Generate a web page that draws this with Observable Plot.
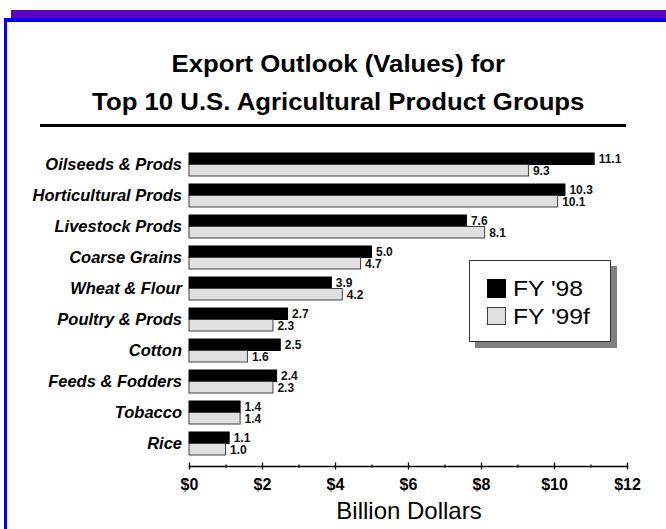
<!DOCTYPE html>
<html><head><meta charset="utf-8">
<script src="https://cdn.jsdelivr.net/npm/d3@7"></script>
<script src="https://cdn.jsdelivr.net/npm/@observablehq/plot@0.6"></script>
<style>
html,body{margin:0;padding:0;background:#fff;}
#page{position:relative;width:666px;height:529px;overflow:hidden;font-family:"Liberation Sans",Arial,sans-serif;color:#000;}
#chart{position:absolute;left:0;top:0;}
.purple{position:absolute;left:11px;top:10px;width:660px;height:8.5px;background:#5f00bf;}
.blueH{position:absolute;left:4px;top:18.3px;width:670px;height:3.3px;background:#0000ff;}
.blueV{position:absolute;left:4px;top:18.3px;width:3.3px;height:520px;background:#0000ff;}
.title{position:absolute;left:6px;width:666px;text-align:center;font-size:23px;line-height:1;font-weight:bold;white-space:nowrap;transform:scaleX(1.12);transform-origin:339px 0;}
.rule{position:absolute;left:40px;top:124px;width:586px;height:3px;background:#000;}
.xlabel{position:absolute;left:259px;width:300px;text-align:center;top:498.7px;font-size:24px;line-height:1;}
.legend{position:absolute;left:469px;top:260px;width:141.7px;height:82.3px;box-sizing:border-box;border:1px solid #333;background:#fff;box-shadow:6px 6px 0 #808080;}
.sw{position:absolute;width:19px;height:18.5px;box-sizing:border-box;}
.lt{position:absolute;font-size:22px;line-height:1;white-space:nowrap;transform:scaleX(1.12);transform-origin:0 0;}
</style></head><body>
<div id="page">
  <div id="chart"></div>
  <div class="purple"></div>
  <div class="blueH"></div>
  <div class="blueV"></div>
  <div class="title" style="top:53px">Export Outlook (Values) for</div>
  <div class="title" style="top:91.2px">Top 10 U.S. Agricultural Product Groups</div>
  <div class="rule"></div>
  <div class="xlabel">Billion Dollars</div>
  <div class="legend" id="legend"></div>
</div>
<script>
const categories = ["Oilseeds & Prods","Horticultural Prods","Livestock Prods","Coarse Grains","Wheat & Flour","Poultry & Prods","Cotton","Feeds & Fodders","Tobacco","Rice"];
const fy98 = [11.1,10.3,7.6,5.0,3.9,2.7,2.5,2.4,1.4,1.1];
const fy99f = [9.3,10.1,8.1,4.7,4.2,2.3,1.6,2.3,1.4,1.0];
const seriesNames = ["FY '98","FY '99f"];
const xTicks = [0,2,4,6,8,10,12];
const xMinorTicks = [1,3,5,7,9,11];

const rows98 = categories.map((c,i)=>({category:c, value:fy98[i]}));
const rows99 = categories.map((c,i)=>({category:c, value:fy99f[i]}));
const fmt = d3.format(".1f");

const chart = Plot.plot({
  width: 666, height: 529,
  marginTop: 141.4, marginBottom: 63, marginLeft: 189, marginRight: 39,
  x: {domain: [0, 12]},
  y: {domain: categories, paddingInner: 8/31, paddingOuter: 0.3645},
  style: {background: "transparent", fontFamily: "'Liberation Sans', Arial, sans-serif", color: "#000", overflow: "visible"},
  marks: [
    Plot.barX(rows98, {x: "value", y: "category", fill: "#000", stroke: "#000", strokeWidth: 1, insetBottom: 11.5}),
    Plot.barX(rows99, {x: "value", y: "category", fill: "#e0e0e0", stroke: "#404040", strokeWidth: 1, insetTop: 11.5}),
    Plot.text(rows98, {x: "value", y: "category", text: d => fmt(d.value), dx: 4, dy: -5.5, textAnchor: "start", fontSize: 12, fontWeight: "bold", fill: "#111"}),
    Plot.text(rows99, {x: "value", y: "category", text: d => fmt(d.value), dx: 4, dy: 6, textAnchor: "start", fontSize: 12, fontWeight: "bold", fill: "#111"}),
    Plot.frame({anchor: "bottom", strokeWidth: 1.5}),
    Plot.axisX(xTicks, {tickSize: 7, dy: -3.5, tickFormat: () => "", label: null, strokeWidth: 1.3}),
    Plot.axisX(xMinorTicks, {tickSize: 3.4, dy: -1.7, tickFormat: () => "", label: null, strokeWidth: 1}),
    Plot.axisX(xTicks, {tickSize: 0, tickPadding: 12.6, tickFormat: d => "$" + d, fontSize: 16, fontWeight: "bold", label: null}),
    Plot.axisY({tickSize: 0, tickPadding: 7.5, fontSize: 16.5, fontWeight: "bold", fontStyle: "italic", label: null})
  ]
});
document.getElementById("chart").appendChild(chart);

// legend
const legend = document.getElementById("legend");
const swFill = ["#000", "#e0e0e0"];
const swStroke = ["#000", "#404040"];
seriesNames.forEach((name, i) => {
  const sw = document.createElement("div");
  sw.className = "sw";
  sw.style.left = "17.3px";
  sw.style.top = (18.3 + i * 27.4) + "px";
  sw.style.background = swFill[i];
  sw.style.border = "1px solid " + swStroke[i];
  legend.appendChild(sw);
  const t = document.createElement("div");
  t.className = "lt";
  t.style.left = "43.3px";
  t.style.top = (17.1 + i * 27.4) + "px";
  t.textContent = name;
  legend.appendChild(t);
});
</script>
</body></html>
